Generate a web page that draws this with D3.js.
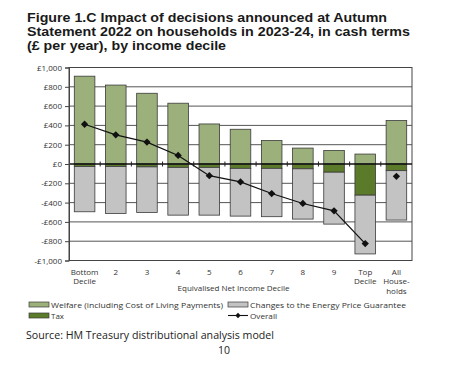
<!DOCTYPE html>
<html><head><meta charset="utf-8">
<script src="https://cdn.jsdelivr.net/npm/d3@7/dist/d3.min.js"></script>
<style>body{margin:0;background:#fff}svg{display:block}text{font-family:"Open Sans",sans-serif}</style>
</head><body><svg id="c" width="465" height="377"></svg>
<script>
const categories = [["Bottom","Decile"],["2"],["3"],["4"],["5"],["6"],["7"],["8"],["9"],["Top","Decile"],["All","House-","holds"]];
const welfare = [910, 818, 733, 630, 415, 360, 243, 165, 140, 103, 450];
const tax = [-25, -25, -30, -35, -35, -45, -45, -50, -85, -323, -69];
const energy = [-470, -487, -472, -495, -495, -495, -501, -521, -538, -609, -512];
const overall = [412, 302, 227, 89, -121, -186, -306, -409, -485, -825, -128];
const yTicks = [1000, 800, 600, 400, 200, 0, -200, -400, -600, -800, -1000];
const titleLines = ["Figure 1.C Impact of decisions announced at Autumn","Statement 2022 on households in 2023-24, in cash terms","(£ per year), by income decile"];

const svg = d3.select("#c");
const L = 69, R = 412, T = 67.5, B = 260.5;
const ids = categories.map((c,i)=>i);
const x = d3.scaleBand().domain(ids).range([L,R]).paddingInner(0.34).paddingOuter(0.17);
const y = d3.scaleLinear().domain([-1000,1000]).range([B,T]);
const cW = "#9bb07a", cT = "#5b7b2a", cE = "#c3c3c3", stroke = "#3a3a3a";

// title
const tw = [360, 383, 199];
svg.selectAll("text.title").data(titleLines).join("text").attr("class","title")
  .attr("x",27).attr("y",(d,i)=>22+i*14).attr("font-size",12.3).attr("font-weight",700)
  .style("font-family","'Liberation Sans', Arial, sans-serif")
  .attr("fill","#1a1a1a").attr("textLength",(d,i)=>tw[i]).attr("lengthAdjust","spacingAndGlyphs").text(d=>d);

// gridlines
svg.append("g").selectAll("line").data(yTicks.filter(v=>v!==0 && Math.abs(v)!==1000)).join("line")
  .attr("x1",L).attr("x2",R).attr("y1",d=>y(d)).attr("y2",d=>y(d)).attr("stroke","#555").attr("stroke-width",1);
// frame
svg.append("rect").attr("x",L).attr("y",y(1000)).attr("width",R-L).attr("height",y(-1000)-y(1000))
  .attr("fill","none").attr("stroke","#444").attr("stroke-width",1);

// bars
const g = svg.append("g");
g.selectAll("rect.w").data(welfare).join("rect").attr("x",(d,i)=>x(i)).attr("width",x.bandwidth())
  .attr("y",d=>y(d)).attr("height",d=>y(0)-y(d)).attr("fill",cW).attr("stroke",stroke).attr("stroke-width",0.8);
g.selectAll("rect.t").data(tax).join("rect").attr("x",(d,i)=>x(i)).attr("width",x.bandwidth())
  .attr("y",y(0)).attr("height",d=>y(d)-y(0)).attr("fill",cT).attr("stroke",stroke).attr("stroke-width",0.8);
g.selectAll("rect.e").data(energy).join("rect").attr("x",(d,i)=>x(i)).attr("width",x.bandwidth())
  .attr("y",(d,i)=>y(tax[i])).attr("height",(d,i)=>y(tax[i]+d)-y(tax[i])).attr("fill",cE).attr("stroke",stroke).attr("stroke-width",0.8);

// zero axis
svg.append("line").attr("x1",L).attr("x2",R).attr("y1",y(0)).attr("y2",y(0)).attr("stroke","#111").attr("stroke-width",1.3);
const step = x.step();
svg.append("g").selectAll("line").data(d3.range(1,11)).join("line")
  .attr("x1",d=>L+d*step).attr("x2",d=>L+d*step).attr("y1",y(0)-2.5).attr("y2",y(0)+2.5).attr("stroke","#222");

// y axis
const ya = svg.append("g").attr("transform",`translate(${L},0)`)
  .call(d3.axisLeft(y).tickValues(yTicks).tickSize(4).tickPadding(3)
    .tickFormat(v=>(v<0?"-":"")+"£"+d3.format(",")(Math.abs(v))));
ya.select(".domain").attr("stroke","#444");
ya.selectAll(".tick line").attr("stroke","#444");
ya.selectAll("text").attr("font-size",8).attr("fill","#333").attr("font-family","Open Sans");

// overall line
const pts = overall.map((v,i)=>[x(i)+x.bandwidth()/2, y(v)]);
svg.append("path").attr("d",d3.line()(pts.slice(0,10))).attr("fill","none").attr("stroke","#111").attr("stroke-width",1.2);
const diamond = d3.symbol().type(d3.symbolDiamond2).size(34);
svg.append("g").selectAll("path").data(pts).join("path").attr("d",diamond)
  .attr("transform",d=>`translate(${d[0]},${d[1]})`).attr("fill","#111");

// x labels
const xl = svg.append("g");
categories.forEach((c,i)=>{
  c.forEach((s,j)=>{
    xl.append("text").attr("x",x(i)+x.bandwidth()/2).attr("y",274.5+j*9.7).attr("text-anchor","middle")
      .attr("font-size",8).attr("fill","#333").text(s);
  });
});
svg.append("text").attr("x",233.5).attr("y",291).attr("text-anchor","middle").attr("font-size",8).attr("fill","#333")
  .text("Equivalised Net Income Decile");

// legend
const leg = [
  {label:"Welfare (including Cost of Living Payments)", col:cW, x:29, y:304.5, tl:172},
  {label:"Changes to the Energy Price Guarantee", col:cE, x:228, y:304.5, tl:156},
  {label:"Tax", col:cT, x:29, y:315.5, tl:13},
  {label:"Overall", col:null, x:228, y:315.5, tl:27}
];
leg.forEach(d=>{
  if(d.col){
    svg.append("rect").attr("x",d.x).attr("y",d.y-2.5).attr("width",20).attr("height",5)
      .attr("fill",d.col).attr("stroke",stroke).attr("stroke-width",0.7);
  } else {
    svg.append("line").attr("x1",d.x).attr("x2",d.x+20).attr("y1",d.y).attr("y2",d.y).attr("stroke","#111").attr("stroke-width",1.1);
    svg.append("path").attr("d",d3.symbol().type(d3.symbolDiamond2).size(18)).attr("transform",`translate(${d.x+10},${d.y})`).attr("fill","#111");
  }
  svg.append("text").attr("x",d.x+22).attr("y",d.y+3).attr("font-size",8).attr("fill","#333")
    .attr("textLength",d.tl).attr("lengthAdjust","spacingAndGlyphs").text(d.label);
});

// source
svg.append("text").attr("x",26).attr("y",339).attr("font-size",10.5).attr("fill","#222")
  .attr("textLength",248).attr("lengthAdjust","spacingAndGlyphs").text("Source: HM Treasury distributional analysis model");
svg.append("text").attr("x",224).attr("y",354).attr("text-anchor","middle").attr("font-size",10.5).attr("fill","#222").text("10");
</script></body></html>
